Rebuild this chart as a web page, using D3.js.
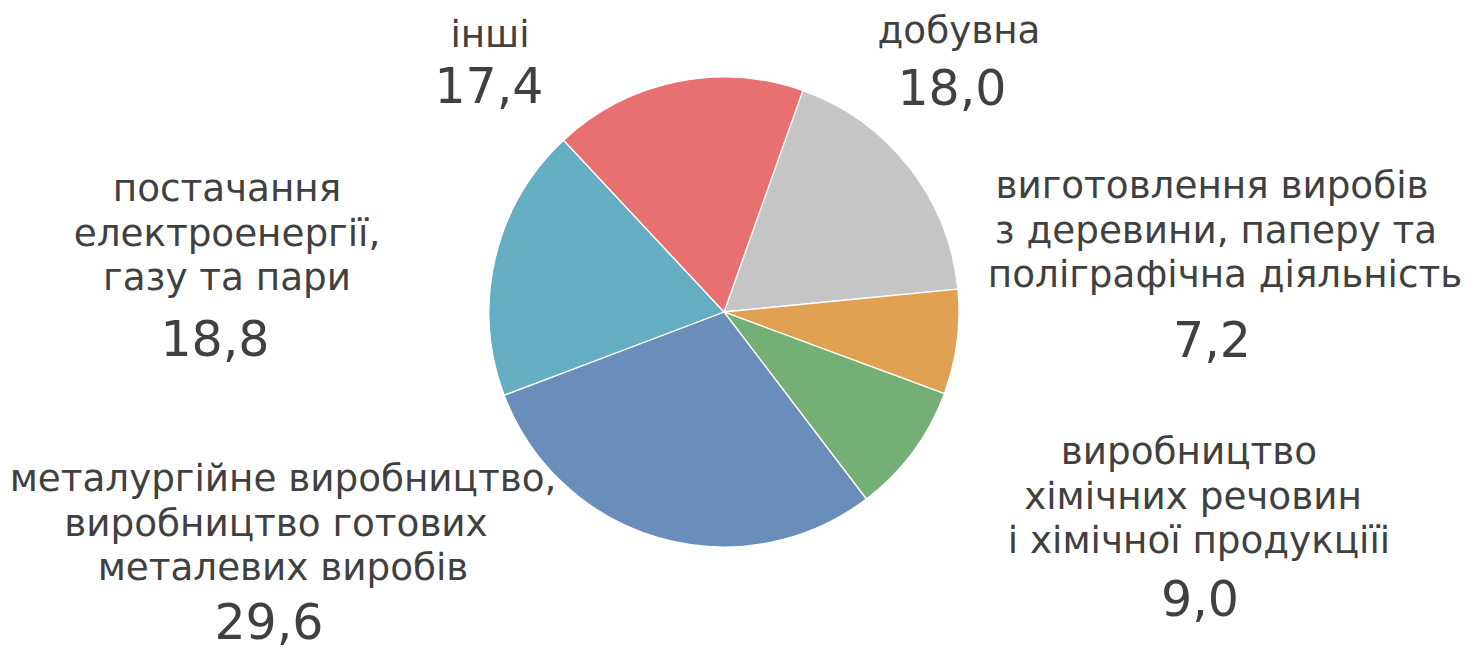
<!DOCTYPE html>
<html>
<head>
<meta charset="utf-8">
<script src="https://cdn.jsdelivr.net/npm/d3@7"></script>
<style>
  html, body { margin: 0; padding: 0; background: #ffffff; }
  svg { display: block; }
  text { font-family: "DejaVu Sans", Verdana, sans-serif; fill: #404040; }
</style>
</head>
<body>
<svg id="chart" width="1466" height="659"></svg>
<script>
// ---- data ----
const categories = [
  "добувна",
  "виготовлення виробів|з деревини, паперу та|поліграфічна діяльність",
  "виробництво|хімічних речовин|і хімічної продукціїі",
  "металургійне виробництво,|виробництво готових|металевих виробів",
  "постачання|електроенергії,|газу та пари",
  "інші"
];
const values = [18.0, 7.2, 9.0, 29.6, 18.8, 17.4];
const colors = ["#C5C5C5", "#E0A153", "#74B075", "#6A8EBA", "#65ADC2", "#E87071"];

// ---- layout (label placement, not data) ----
const labelLineX = [[959], [1212, 1216, 1225], [1189, 1193, 1199], [283, 276, 283], [227, 227, 227], [490]];
const labelFirstY = [43, 198, 464, 491, 201, 47];
const valueX = [952, 1212, 1200, 269, 215, 489];
const valueY = [105, 357, 616, 639, 356, 103];
const lineStep = 44.7;

const svg = d3.select("#chart");
const cx = 724, cy = 312, r = 235;
const startDeg = 19.6;

const pie = d3.pie().sort(null).value(d => d)
  .startAngle(startDeg * Math.PI / 180)
  .endAngle(startDeg * Math.PI / 180 + 2 * Math.PI);
const arc = d3.arc().innerRadius(0).outerRadius(r);
const color = d3.scaleOrdinal().domain(d3.range(values.length)).range(colors);

const g = svg.append("g").attr("transform", `translate(${cx},${cy})`);
g.selectAll("path")
  .data(pie(values))
  .join("path")
  .attr("d", arc)
  .attr("fill", (d, i) => color(i))
  .attr("stroke", "#ffffff")
  .attr("stroke-width", 1.3)
  .attr("stroke-linejoin", "round");

const fmt = v => d3.format(".1f")(v).replace(".", ",");

categories.forEach((c, i) => {
  const lines = c.split("|");
  lines.forEach((ln, j) => {
    svg.append("text")
      .attr("x", labelLineX[i][j])
      .attr("y", labelFirstY[i] + j * lineStep)
      .attr("text-anchor", "middle")
      .style("font-size", "37.3px")
      .text(ln);
  });
  svg.append("text")
    .attr("x", valueX[i])
    .attr("y", valueY[i])
    .attr("text-anchor", "middle")
    .style("font-size", "49px")
    .text(fmt(values[i]));
});
</script>
</body>
</html>
